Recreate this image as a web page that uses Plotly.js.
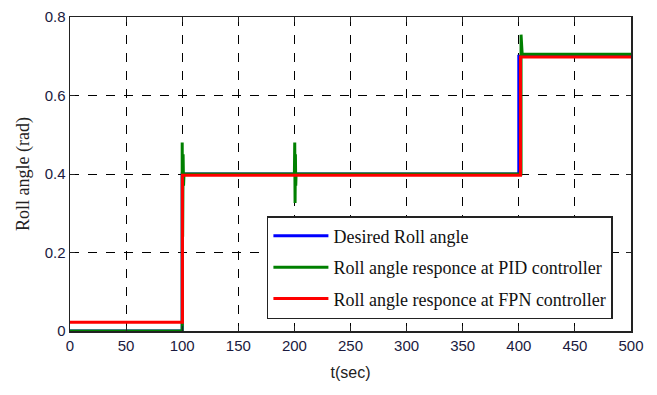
<!DOCTYPE html>
<html>
<head>
<meta charset="utf-8">
<script src="https://cdn.plot.ly/plotly-3.0.1.min.js"></script>
<style>
  html, body { margin: 0; padding: 0; background: #fff; }
  #chart { width: 657px; height: 395px; }
</style>
</head>
<body>
<div id="chart"></div>
<script>
// Desired roll angle: step reference
const desiredTime  = [0, 100, 100, 400, 400, 500];
const desiredAngle = [0, 0, 0.4, 0.4, 0.7, 0.7];

// PID controller response: steps with short transient spikes
const pidTime  = [0, 100, 100, 100.4, 100.8, 101.2, 101.6, 200, 200.3, 200.6, 200.9, 201.2, 201.5,
                  402, 402, 402.5, 403, 403.5, 500];
const pidAngle = [0, 0, 0.48, 0.24, 0.45, 0.37, 0.4, 0.4, 0.48, 0.326, 0.45, 0.37, 0.4,
                  0.4, 0.755, 0.72, 0.705, 0.705, 0.705];

// FPN controller response
const fpnTime  = [0, 100.2, 100.2, 401.5, 401.5, 500];
const fpnAngle = [0.022, 0.022, 0.397, 0.397, 0.698, 0.698];

const xTicks = [0, 50, 100, 150, 200, 250, 300, 350, 400, 450, 500];
const yTicks = [0, 0.2, 0.4, 0.6, 0.8];

const traces = [
  { x: desiredTime, y: desiredAngle, name: 'Desired Roll angle', mode: 'lines', legendgroup: 'a',
    line: { color: '#0000ff', width: 3 } },
  { x: pidTime, y: pidAngle, name: 'Roll angle responce at PID controller', mode: 'lines', legendgroup: 'b',
    line: { color: '#008000', width: 3 } },
  { x: fpnTime, y: fpnAngle, name: 'Roll angle responce at FPN controller', mode: 'lines', legendgroup: 'c',
    line: { color: '#ff0000', width: 3 } }
];

const axisCommon = {
  showline: true, linecolor: '#222', linewidth: 1.5, mirror: 'ticks',
  ticks: 'inside', ticklen: 5, tickcolor: '#222',
  showgrid: true, gridcolor: '#000', griddash: 'dash', gridwidth: 1,
  zeroline: false,
  tickfont: { family: 'Liberation Sans, Arial, sans-serif', size: 15, color: '#1a1a40' }
};

const layout = {
  width: 657, height: 395,
  margin: { l: 70, r: 26, t: 17, b: 64 },
  paper_bgcolor: '#fff', plot_bgcolor: '#fff',
  showlegend: true,
  legend: {
    x: 0.351, y: 0.366, xanchor: 'left', yanchor: 'top',
    bgcolor: '#fff', bordercolor: '#222', borderwidth: 1.5,
    font: { family: 'Liberation Serif, Times New Roman, serif', size: 18, color: '#111' },
    tracegroupgap: 5, traceorder: 'grouped', itemwidth: 55
  },
  xaxis: Object.assign({}, axisCommon, {
    range: [0, 500], tickvals: xTicks,
    title: { text: 't(sec)', font: { family: 'Liberation Sans, Arial, sans-serif', size: 16, color: '#222' }, standoff: 14 }
  }),
  yaxis: Object.assign({}, axisCommon, {
    range: [0, 0.8], tickvals: yTicks, ticktext: ['0', '0.2', '0.4', '0.6', '0.8'],
    title: { text: 'Roll angle (rad)', font: { family: 'Liberation Serif, Times New Roman, serif', size: 18, color: '#222' }, standoff: 10 }
  })
};

Plotly.newPlot('chart', traces, layout, { displayModeBar: false, staticPlot: true });
</script>
</body>
</html>
